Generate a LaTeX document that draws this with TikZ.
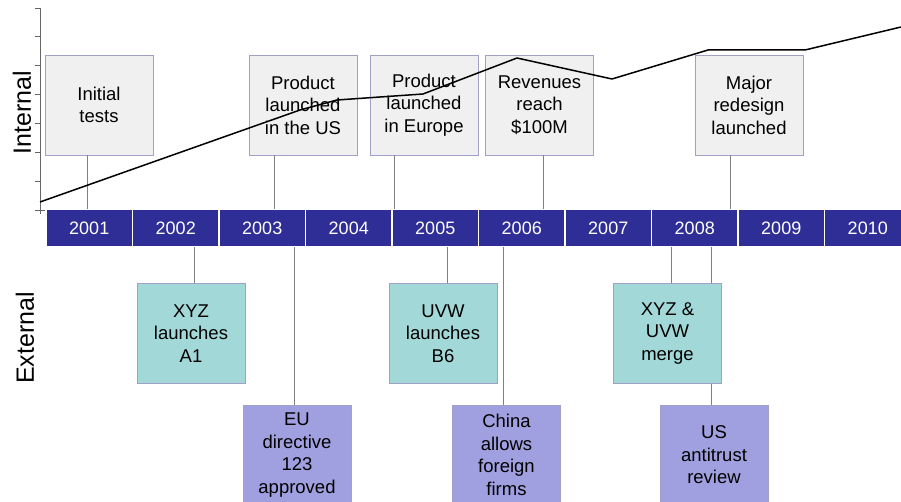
\documentclass[tikz,border=0pt]{standalone}
\usepackage{fontspec}
\setmainfont{Liberation Sans}
\definecolor{barblue}{RGB}{46,46,150}
\definecolor{boxline}{RGB}{160,160,200}
\definecolor{intfill}{RGB}{240,240,240}
\definecolor{extteal}{RGB}{163,216,216}
\definecolor{extpurple}{RGB}{160,160,224}
\tikzset{
  event/.style={draw=boxline, line width=0.8pt, minimum width=108pt, minimum height=100pt,
    inner sep=2pt, align=center, font=\fontsize{18.5}{22.5}\selectfont},
  internal/.style={event, fill=intfill},
  market/.style={event, fill=extteal},
  policy/.style={event, fill=extpurple},
  yearcell/.style={fill=barblue, draw=white, line width=1.5pt, minimum width=86.5pt,
    minimum height=37pt, text=white, font=\fontsize{18}{20}\selectfont},
  stem/.style={draw=gray, line width=0.8pt},
  trend/.style={line width=1.5pt, line join=round}
}

\begin{document}
\begin{tikzpicture}[x=1pt,y=-1pt]
		\clip (0,0) rectangle (901,502);
		\fill[white] (0,0) rectangle (901,502);

		% year bar
		\foreach \yr [count=\i from 0] in {2001,2002,2003,2004,2005,2006,2007,2008,2009,2010}
			\node[yearcell] (y\yr) at (89.25+86.5*\i,228) {\yr};

		% vertical axis
		\draw[gray!80!black, line width=0.8pt] (40,8) -- (40,214);
		\foreach \k in {0,...,7}
			\draw[gray!80!black, line width=0.8pt] (35,8+28.857*\k) -- (40,8+28.857*\k);
		\draw[gray!80!black, line width=0.8pt] (40,210) -- (45,210);

		\node[rotate=90, font=\fontsize{25}{28}\selectfont] (lblint) at (22,113) {Internal};
		\node[rotate=90, font=\fontsize{25}{28}\selectfont] (lblext) at (25,338) {External};

		% internal events
		\node[internal] (tests) at (99,105) {Initial\\tests};
		\node[internal] (usa) at (303,105) {Product\\launched\\in the US};
		\node[internal] (europe) at (424,105) {Product\\launched\\in Europe};
		\node[internal] (revenue) at (539.5,105) {Revenues\\reach\\\$100M};
		\node[internal] (redesign) at (749,105) {Major\\redesign\\launched};

		\draw[stem] ([xshift=-12pt]tests.south) -- ([xshift=-12pt]tests.south |- y2001.north);
		\draw[stem] ([xshift=-29pt]usa.south) -- ([xshift=-29pt]usa.south |- y2003.north);
		\draw[stem] ([xshift=-30pt]europe.south) -- ([xshift=-30pt]europe.south |- y2005.north);
		\draw[stem] ([xshift=3.5pt]revenue.south) -- ([xshift=3.5pt]revenue.south |- y2006.north);
		\draw[stem] ([xshift=-19pt]redesign.south) -- ([xshift=-19pt]redesign.south |- y2008.north);

		% external events
		\node[market] (xyz) at (191,333.5) {XYZ\\launches\\A1};
		\node[policy] (eudir) at (297,455) {EU\\directive\\123\\approved};
		\node[market] (uvw) at (443,333.5) {UVW\\launches\\B6};
		\node[policy] (china) at (506.5,455) {China\\allows\\foreign\\firms};
		\node[market] (merge) at (667.5,333.5) {XYZ \&\\UVW\\merge};
		\node[policy] (antitrust) at (714,455) {US\\antitrust\\review};

		\draw[stem] ([xshift=3pt]xyz.north) -- ([xshift=3pt]xyz.north |- y2002.south);
		\draw[stem] ([xshift=-3pt]eudir.north) -- ([xshift=-3pt]eudir.north |- y2003.south);
		\draw[stem] ([xshift=4pt]uvw.north) -- ([xshift=4pt]uvw.north |- y2005.south);
		\draw[stem] ([xshift=-3.5pt]china.north) -- ([xshift=-3.5pt]china.north |- y2006.south);
		\draw[stem] ([xshift=3.5pt]merge.north) -- ([xshift=3.5pt]merge.north |- y2008.south);
		\draw[stem] ([xshift=43.5pt]merge.north) -- ([xshift=43.5pt]merge.north |- y2008.south);
		\draw[stem] ([xshift=-3pt]antitrust.north) -- ([xshift=-3pt]antitrust.north |- merge.south);

		% trend line
		\draw[trend] (40,202) -- (300,110) -- (337,100) -- (423,94) -- (517,58)
			-- (612,79) -- (708,50) -- (805,50) -- (901,27);
	\end{tikzpicture}
\end{document}
